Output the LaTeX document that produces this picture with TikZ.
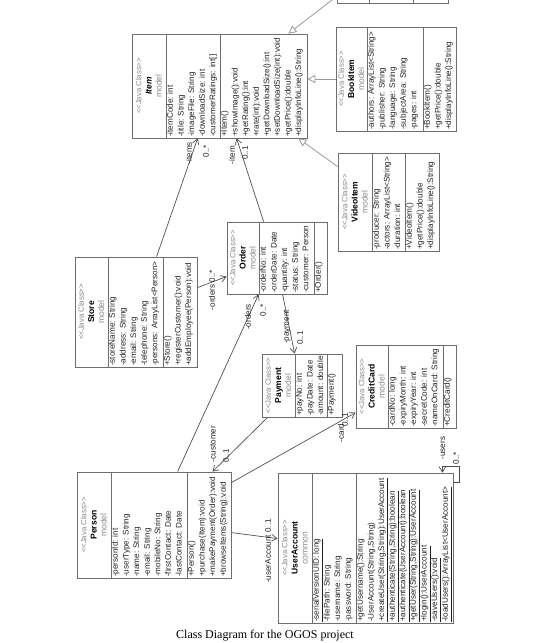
\documentclass[tikz,border=0pt]{standalone}
\usepackage{fontspec}
\setmainfont{Liberation Sans}
\newfontfamily\captionfont{Liberation Serif}
\usetikzlibrary{calc,arrows.meta,fit}
\definecolor{boxgray}{HTML}{6E6E6E}
\definecolor{stereo}{HTML}{8A8A8A}
\definecolor{linegray}{HTML}{4A4A4A}
\definecolor{inhgray}{HTML}{9A9A9A}
\definecolor{membertext}{HTML}{222222}

% head of a class box: stereotype, name, package
\newcommand{\javahead}[2]{\textcolor{stereo}{\fontsize{5.8}{7.6}\selectfont{<}{<}Java Class{>}{>}}\\#1\\\textcolor{stereo}{#2}}
% class box: name, corner, corner, divider 1, divider 2, head, attributes, methods
\newcommand{\umlclass}[8]{%
  \node[classbox, fit={(#2) (#3)}] (#1) {};
  \draw[boxline] (#4,0 |- #1.north) -- (#4,0 |- #1.south);
  \draw[boxline] (#5,0 |- #1.north) -- (#5,0 |- #1.south);
  \node[classhead] at ($(#1.west)!0.5!(#4,0 |- #1.west)$) {#6};
  \node[members] at (#4,0 |- #1.south) {#7};
  \node[members] at (#5,0 |- #1.south) {#8};
}

\begin{document}
\begin{tikzpicture}[x=0.75pt, y=-0.75pt, >={Straight Barb[length=4pt,width=5pt]},
    classbox/.style={draw=boxgray, fill=white, line width=0.6pt, inner sep=0pt},
    boxline/.style={draw=boxgray, line width=0.6pt},
    classhead/.style={rotate=90, align=center, inner sep=0pt, font=\fontsize{6.4}{7.6}\selectfont},
    members/.style={rotate=90, anchor=north west, align=left, inner xsep=1pt, inner ysep=0.6pt,
      text=membertext, font=\fontsize{6.1}{7.95}\selectfont},
    assoc/.style={draw=linegray, line width=0.5pt, ->},
    inherit/.style={draw=inhgray, line width=0.6pt, -{Triangle[open,length=6pt,width=6pt]}},
    role/.style={rotate=90, inner sep=0pt, text=membertext, font=\fontsize{6.1}{7.6}\selectfont}]
    \useasboundingbox (0,0) rectangle (539,643);
    \fill[white] (0,0) rectangle (539,643);
    \clip (0,0) rectangle (539,643);

    % classes
    \umlclass{topitem}{337,-80}{448,3}{369}{413}{}{}{}
    \umlclass{item}{132,34}{307,138}{166}{220}
      {\javahead{\textbf{\textit{Item}}}{model}}
      {-itemCode: int\\-title: String\\-imageFile: String\\-downloadSize: int\\-customerRatings: int[]}
      {+Item()\\+showImage():void\\+getRating():int\\+rate(int):void\\+getDownloadSize():int\\+setDownloadSize(int):void\\+getPrice():double\\+displayInfoLine():String}
    \umlclass{bookitem}{336,27}{456,131}{367}{423}
      {\javahead{\textbf{BookItem}}{model}}
      {-authors: ArrayList<String>\\-publisher: String\\-language: String\\-subjectArea: String\\-pages: int}
      {+BookItem()\\+getPrice():double\\+displayInfoLine():String}
    \umlclass{videoitem}{338,153}{439,251}{372}{405}
      {\javahead{\textbf{VideoItem}}{model}}
      {-producer: String\\-actors: ArrayList<String>\\-duration: int}
      {+VideoItem()\\+getPrice():double\\+displayInfoLine():String}
    \umlclass{store}{75,257}{197,367}{108}{163}
      {\javahead{\textbf{Store}}{model}}
      {-storeName: String\\-address: String\\-email: String\\-telephone: String\\-persons: ArrayList<Person>}
      {+Store()\\+registerCustomer():void\\+addEmployee(Person):void}
    \umlclass{order}{227,222}{327,294}{259}{314}
      {\javahead{\textbf{Order}}{model}}
      {-orderNo: int\\-orderDate: Date\\-quantity: int\\-status: String\\-customer: Person}
      {+Order()}
    \umlclass{payment}{262,354}{342,417}{295}{327}
      {\javahead{\textbf{Payment}}{model}}
      {+payNo: int\\-payDate: Date\\-amount: double}
      {+Payment()}
    \umlclass{creditcard}{356,345}{456,428}{388}{443}
      {\javahead{\textbf{CreditCard}}{model}}
      {-cardNo: long\\-expiryMonth: int\\-expiryYear: int\\-secretCode: int\\-nameOnCard: String}
      {+CreditCard()}
    \umlclass{person}{77,472}{231,578}{111}{187}
      {\javahead{\textbf{Person}}{model}}
      {-personId: int\\-userType: String\\-name: String\\-email: String\\-mobileNo: String\\-firstContact: Date\\-lastContact: Date}
      {+Person()\\+purchase(Item):void\\+makePayment(Order):void\\+browseItems(String):void}
    \umlclass{useraccount}{278,473}{453,623}{312}{356}
      {\javahead{\textbf{UserAccount}}{common}}
      {\underline{-serialVersionUID: long}\\-filePath: String\\-username: String\\-password: String}
      {+getUsername():String\\-UserAccount(String,String)\\\underline{+createUser(String,String):UserAccount}\\\underline{+authenticate(String,String):boolean}\\\underline{+authenticate(UserAccount):boolean}\\\underline{+getUser(String,String):UserAccount}\\\underline{+login():UserAccount}\\\underline{-saveUsers():void}\\\underline{-loadUsers():ArrayList<UserAccount>}}

    % generalizations
    \coordinate (offtop) at (358,-20);
    \draw[inherit] (offtop) -- ($(item.north east)+(-19,0)$);
    \draw[inherit] (bookitem.west) -- (bookitem.west -| item.east);
    \draw[inherit] ($(videoitem.north west)+(0,14)$) -- ($(item.south east)+(-9,0)$);

    % associations
    \draw[assoc] ($(store.north west)+(82,0)$) -- ($(item.south west)+(66,0)$);
    \draw[assoc] ($(order.north west)+(37,0)$) -- ($(item.south west)+(105,0)$);
    \draw[assoc] ($(store.north east)+(0,31)$) -- ($(order.north west)+(0,55)$);
    \draw[assoc] ($(person.north west)+(101,0)$) -- ($(order.south west)+(32,0)$);
    \draw[assoc] ($(order.south west)+(56,0)$) -- ($(payment.north west)+(33,0)$);
    \draw[assoc] ($(payment.south west)+(6,0)$) -- ($(person.north west)+(136,0)$);
    \draw[assoc] ($(person.north east)+(0,11)$) -- ($(creditcard.north west)+(0,68)$);
    \draw[assoc] ($(person.north east)+(0,61)$) -- ($(useraccount.north west)+(0,66)$);
    \draw[assoc] ($(useraccount.north east)+(0,10)$) -- ++(6,0) -- ++(0,-16) -- ++(-17,0)
      -- ($(useraccount.north east)+(-11,0)$);

    % role names and multiplicities
    \node[role] (lblitems) at (189,153) {-items};
    \node[role] (mulitems) at (206,151) {0..*};
    \node[role] (lblitem) at (232,155) {-item};
    \node[role] (mulitem) at (245,153) {0..1};
    \node[role] (lblstoreorders) at (212,290) {-orders 0..*};
    \node[role] (lblorders) at (248,317) {-orders};
    \node[role] (mulorders) at (263,310) {0..*};
    \node[role] (lblpayment) at (287,327) {-payment};
    \node[role] (mulpayment) at (300,338) {0..1};
    \node[role] (lblcustomer) at (213,444) {-customer};
    \node[role] (mulcustomer) at (226,456) {0..1};
    \node[role] (lblcard) at (341,433) {-card};
    \node[role] (mulcard) at (345,420) {0..1};
    \node[role] (lbluser) at (268,551) {-userAccount 0..1};
    \node[role] (lblusers) at (443,448) {-users};
    \node[role] (mulusers) at (456,458) {0..*};

    \node[inner sep=0pt, font=\captionfont\fontsize{9}{10}\selectfont] (caption) at (265,636)
      {Class Diagram for the OGOS project};
\end{tikzpicture}
\end{document}
